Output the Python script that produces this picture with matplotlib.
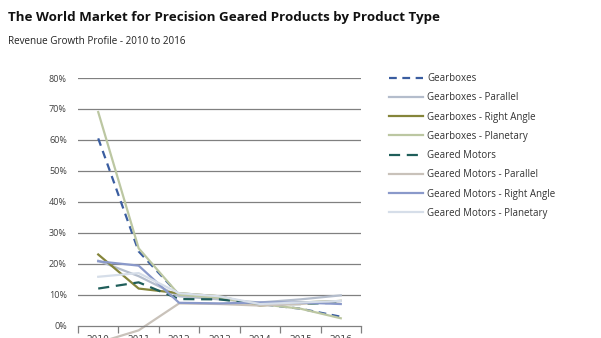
import numpy as np
import matplotlib.pyplot as plt

years = ["2010", "2011", "2012", "2013", "2014", "2015", "2016"]

gearboxes = [60.5, 24.0, 10.0, 9.0, 7.0, 5.5, 2.9]
gb_parallel = [21.0, 16.0, 9.5, 8.5, 7.5, 8.5, 9.8]
gb_right_angle = [23.0, 12.0, 10.5, 9.5, 6.5, 7.5, 8.0]
gb_planetary = [69.0, 25.0, 10.0, 9.0, 7.0, 5.5, 2.4]
geared_motors = [12.0, 14.0, 8.6, 8.5, 7.0, 7.0, 7.5]
gm_parallel = [-5.5, -1.5, 7.2, 7.0, 6.5, 7.0, 8.0]
gm_right_angle = [20.8, 19.4, 7.4, 7.2, 7.5, 7.5, 7.0]
gm_planetary = [15.8, 17.0, 10.5, 9.5, 7.0, 7.5, 8.0]

series = [
    ("Gearboxes", gearboxes, "#3A5DA0", (0, (3.5, 2.5))),
    ("Gearboxes - Parallel", gb_parallel, "#B4BDCC", "-"),
    ("Gearboxes - Right Angle", gb_right_angle, "#85853A", "-"),
    ("Gearboxes - Planetary", gb_planetary, "#BCC7A2", "-"),
    ("Geared Motors", geared_motors, "#1F5E5A", (0, (5, 3))),
    ("Geared Motors - Parallel", gm_parallel, "#C9C2BA", "-"),
    ("Geared Motors - Right Angle", gm_right_angle, "#8A99CA", "-"),
    ("Geared Motors - Planetary", gm_planetary, "#D6DEE9", "-"),
]

W, H = 601, 338
fig = plt.figure(figsize=(W / 100, H / 100), dpi=100)

# plot area: 0% at y=325.7px, 80% at y=78px, runs past the bottom of the figure
ymin, ymax = -0.3, 0.8
px10 = (325.7 - 78) / 8
bottom_px = (H - 325.7) - 3 * px10
ax = fig.add_axes([78 / W, bottom_px / H, (361 - 78) / W, (260 - bottom_px) / H])

x = np.arange(len(years))
handles = []
for name, vals, col, ls in series:
    h, = ax.plot(x, np.array(vals) / 100, color=col, lw=1.6, ls=ls, label=name)
    handles.append(h)

ax.set_xlim(-0.5, len(years) - 0.5)
ax.set_ylim(ymin, ymax)

ax.tick_params(axis="y", length=0, pad=8, labelsize=6.5, labelcolor="#404040")
ax.tick_params(axis="x", which="major", length=0, pad=7, labelsize=6.5, labelcolor="#404040")
ax.tick_params(axis="x", which="minor", length=5, color="#808080", width=0.9)

yt = np.arange(0, 0.81, 0.1)
ax.set_yticks(yt)
ax.set_yticklabels([f"{int(round(v * 100))}%" for v in yt], fontsize=6.5,
                   color="#404040", family="Open Sans")
for v in yt[1:]:
    ax.axhline(v, color="#808080", lw=0.9, zorder=0)

# year labels sit just under the 0% axis and are cut by the lower edge, as in the original
ax.set_xticks(np.arange(-0.5, len(years)), minor=True)
ax.set_xticks(x)
ax.set_xticklabels(years, fontsize=6.5, color="#404040", family="Open Sans")

for s in ["left", "right", "top"]:
    ax.spines[s].set_visible(False)
ax.spines["bottom"].set_position(("data", 0))
ax.spines["bottom"].set_color("#808080")
ax.spines["bottom"].set_linewidth(0.9)

fig.text(8 / W, 1 - 18 / H, "The World Market for Precision Geared Products by Product Type",
         fontsize=9.6, fontweight="bold", family="Open Sans", va="center", color="#111111")
fig.text(8 / W, 1 - 41 / H, "Revenue Growth Profile - 2010 to 2016",
         fontsize=7.1, family="Open Sans", va="center", color="#222222")

fig.legend(handles=handles, loc="upper left", bbox_to_anchor=(389 / W, 1 - 73 / H),
           frameon=False, handlelength=3.5, handletextpad=0.45,
           labelspacing=0.85, borderaxespad=0, borderpad=0,
           prop={"family": "Open Sans", "size": 7}, labelcolor="#333333")

fig.savefig("out.png", dpi=100)
